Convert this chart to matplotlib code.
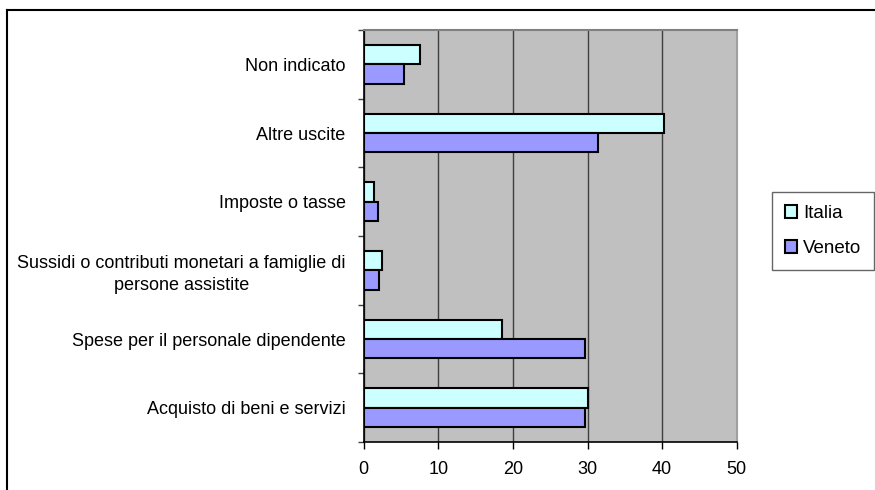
import matplotlib
matplotlib.use("Agg")
import matplotlib.pyplot as plt
import numpy as np
from matplotlib.lines import Line2D

plt.rcParams['font.family'] = ['Liberation Sans', 'DejaVu Sans']

categories = [
    "Non indicato",
    "Altre uscite",
    "Imposte o tasse",
    "Sussidi o contributi monetari a famiglie di\npersone assistite",
    "Spese per il personale dipendente",
    "Acquisto di beni e servizi",
]
italia = [7.6, 40.3, 1.4, 2.4, 18.5, 30.1]
veneto = [5.4, 31.4, 1.9, 2.1, 29.6, 29.6]
x_ticks = [0, 10, 20, 30, 40, 50]

fig = plt.figure(figsize=(8.75, 4.9), dpi=100)
ax = fig.add_axes([363.7 / 875, 1 - 442 / 490, (736.7 - 363.7) / 875, (442 - 30) / 490])
ax.set_facecolor('#C0C0C0')

n = len(categories)
centers = np.arange(n)  # 0 at the top after inverting
h = 0.28
ax.barh(centers - h / 2, italia, height=h, color='#CCFFFF', edgecolor='black',
        linewidth=1.5, label='Italia', zorder=3)
ax.barh(centers + h / 2, veneto, height=h, color='#9999FF', edgecolor='black',
        linewidth=1.5, label='Veneto', zorder=3)

ax.set_xlim(0, 50)
ax.set_ylim(n - 0.5, -0.5)
ax.set_xticks(x_ticks)
ax.set_xticklabels([str(t) for t in x_ticks], fontsize=13)
ax.xaxis.grid(True, color='#404040', linewidth=1.0, zorder=1)
ax.set_axisbelow(True)

# category labels sit between the boundary ticks
ax.set_yticks(np.arange(n + 1) - 0.5)
ax.set_yticklabels([])
ax.set_yticks(centers, minor=True)
ax.set_yticklabels(categories, minor=True, fontsize=13, multialignment='center',
                   linespacing=1.35)
ax.tick_params(axis='y', which='minor', length=0, pad=13)
ax.tick_params(axis='y', which='major', length=4, width=1, color='#404040', direction='out')
ax.tick_params(axis='x', length=5, width=1, direction='out', pad=9)

ax.spines['left'].set_color('black')
ax.spines['left'].set_linewidth(1.2)
ax.spines['bottom'].set_color('black')
ax.spines['bottom'].set_linewidth(1.2)
ax.spines['top'].set_color('#808080')
ax.spines['top'].set_linewidth(1.5)
ax.spines['right'].set_color('#A0A0A0')
ax.spines['right'].set_linewidth(1.5)

leg = ax.legend(loc='upper left', bbox_to_anchor=(772 / 875, 1 - 192 / 490),
                bbox_transform=fig.transFigure, frameon=True, fancybox=False,
                fontsize=13.5, handlelength=0.65, handleheight=0.65, handletextpad=0.3,
                labelspacing=0.97, borderpad=0.7, borderaxespad=0)
leg.get_frame().set_edgecolor('#404040')
leg.get_frame().set_linewidth(1.0)

# outer chart frame (top and left edges)
fig.add_artist(Line2D([7 / 875, 1.0], [1 - 10 / 490, 1 - 10 / 490], transform=fig.transFigure,
                      color='black', linewidth=1.5))
fig.add_artist(Line2D([7 / 875, 7 / 875], [0, 1 - 10 / 490], transform=fig.transFigure,
                      color='black', linewidth=1.5))

fig.savefig('out.png', dpi=100)
